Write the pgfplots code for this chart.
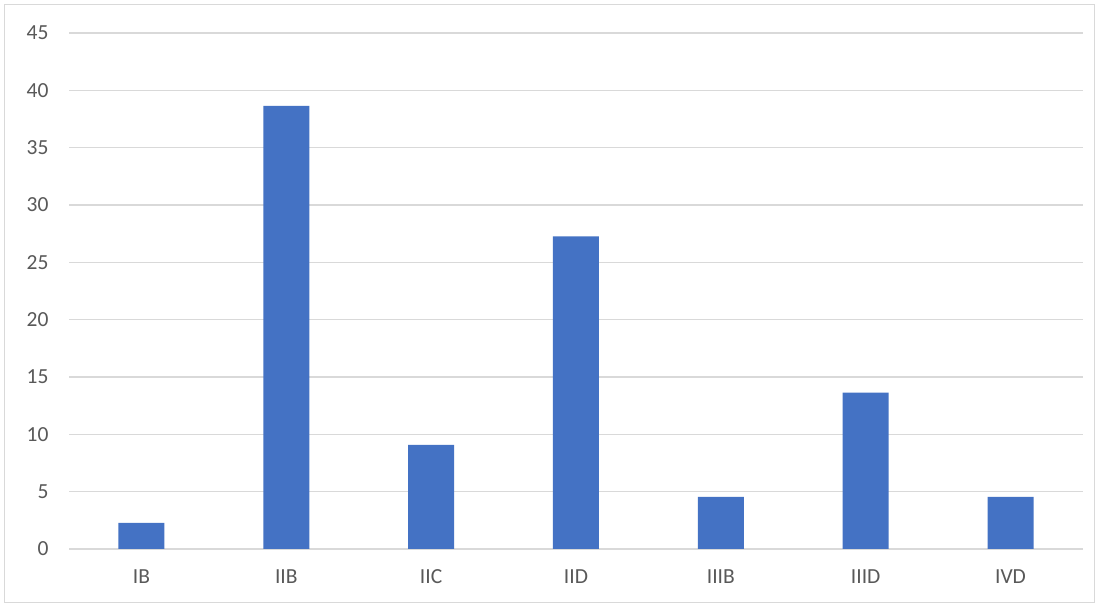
\documentclass[border=0pt]{standalone}
\usepackage{fontspec}
\setmainfont{Carlito}
\usepackage{pgfplots}
\pgfplotsset{compat=1.18}
\definecolor{barblue}{HTML}{4472C4}
\definecolor{gridgray}{HTML}{D9D9D9}
\definecolor{txtgray}{HTML}{595959}
\begin{document}
\begin{tikzpicture}[x=1pt,y=1pt]
\fill[white] (0,0) rectangle (1099,607);
\draw[gridgray, line width=1.5pt] (4.5,4.5) rectangle (1094.5,602.5);
\begin{axis}[
  at={(69pt,58pt)}, anchor=south west,
  scale only axis, width=1014pt, height=516pt,
  ybar, bar width=46pt,
  xmin=-0.5, xmax=6.5, ymin=0, ymax=45,
  ytick={0,5,...,45},
  xtick={0,1,2,3,4,5,6},
  xticklabels={IB,IIB,IIC,IID,IIIB,IIID,IVD},
  major tick length=0pt,
  axis lines=left,
  axis line style={-},
  y axis line style={draw=none},
  x axis line style={gridgray, line width=1.2pt},
  ymajorgrids, grid style={gridgray, line width=1.2pt},
  /pgf/number format/assume math mode=true,
  tick label style={font=\fontsize{21.5}{26}\selectfont, text=txtgray},
  yticklabel style={xshift=-17pt},
  xticklabel style={yshift=-17pt},
]
\addplot[fill=barblue, draw=none] coordinates {
(0,2.27) (1,38.64) (2,9.09) (3,27.27) (4,4.55) (5,13.64) (6,4.55)};
\end{axis}
\end{tikzpicture}
\end{document}
